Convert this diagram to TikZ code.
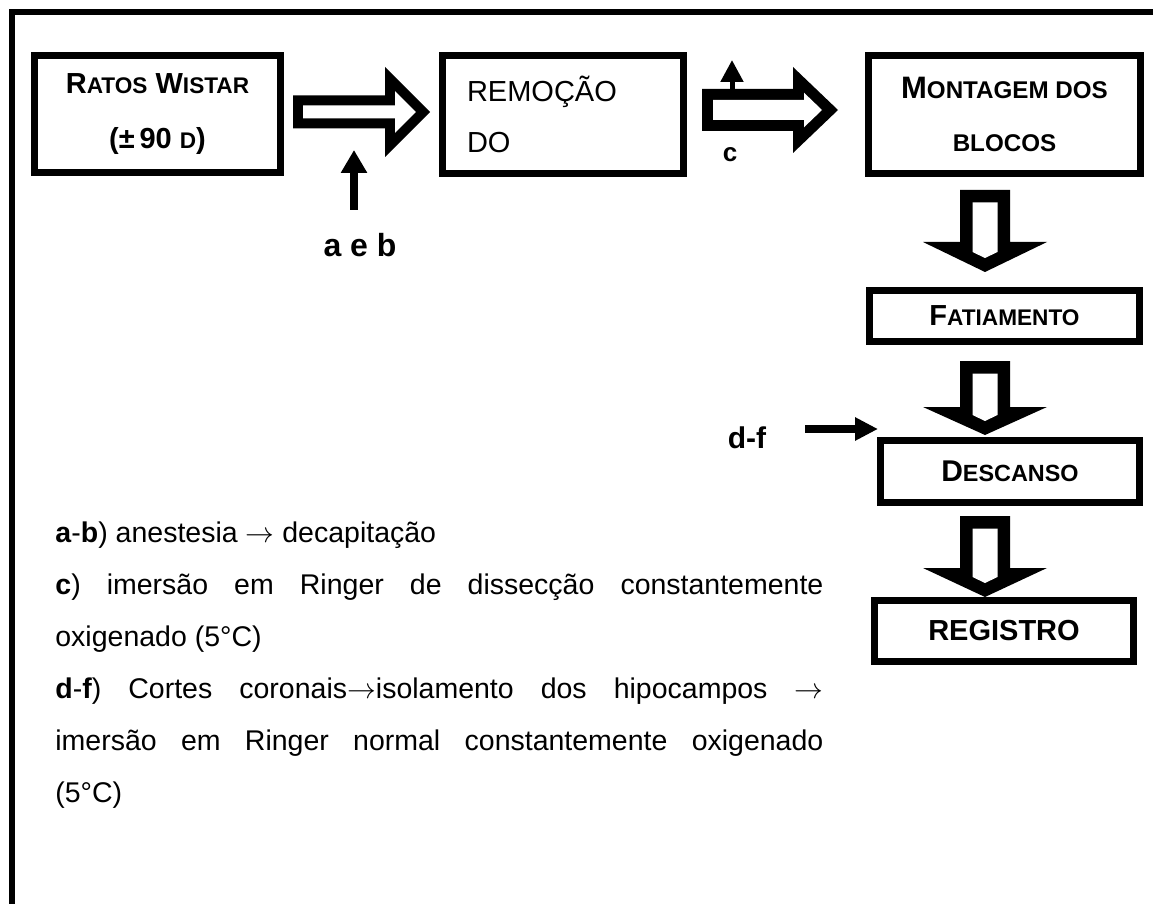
\documentclass[tikz,border=0pt]{standalone}
\usepackage{fontspec}
\setmainfont{Liberation Sans}
\usepackage{graphicx}
\usetikzlibrary{arrows.meta}

\newcommand{\sm}[1]{\scalebox{0.78}{#1}}
% seta larga vazada para baixo: topo, base da cabeca, ponta
\newcommand{\setabaixo}[3]{%
  \fill (960,#1) -- (1010,#1) -- (1010,#2) -- (1047,#2) -- (985,#3) -- (923,#2) -- (960,#2) -- cycle;
  \fill[white] (972.5,#1+12.5) -- (997.5,#1+12.5) -- (997.5,#3-20) -- (985,#3-14) -- (972.5,#3-20) -- cycle;}

\tikzset{
  etapa/.style={draw, line width=3.5pt, inner sep=0pt, align=center},
  rotulo/.style={font=\bfseries\fontsize{16}{19}\selectfont},
  seta/.style={line width=4pt, -{Triangle[length=11.5pt,width=12.5pt]}},
}

\begin{document}
\begin{tikzpicture}[x=0.5pt,y=-0.5pt]
\begin{scope}[scale=1]
\useasboundingbox (0,0) rectangle (1153,904);

\draw[line width=3.2pt] (1153,12) -- (12,12) -- (12,904);

% etapas
\node[etapa, minimum width=123pt, minimum height=58.5pt, font=\bfseries\fontsize{14.5}{27.5}\selectfont] (ratos) at (157.5,114) {R\sm{ATOS} W\sm{ISTAR}\\(±\,90 \sm{D})};
\node[etapa, minimum width=120.5pt, minimum height=59pt, inner xsep=12.25pt, text width=96pt, align=left, font=\fontsize{14.5}{25.5}\selectfont] (remo) at (563,114.5) {REMOÇÃO\\DO};
\node[etapa, minimum width=136pt, minimum height=59pt, font=\bfseries\fontsize{15.5}{26.5}\selectfont] (mont) at (1004.5,114.5) {M\sm{ONTAGEM DOS}\\\sm{BLOCOS}};
\node[etapa, minimum width=135pt, minimum height=25.5pt, font=\bfseries\fontsize{14.5}{17}\selectfont] (fatia) at (1004.5,316) {F\sm{ATIAMENTO}};
\node[etapa, minimum width=129.5pt, minimum height=31pt, font=\bfseries\fontsize{15}{18}\selectfont] (desc) at (1010,471.5) {D\sm{ESCANSO}};
\node[etapa, minimum width=129.5pt, minimum height=30.5pt, font=\bfseries\fontsize{14.5}{17}\selectfont] (reg) at (1004,631) {REGISTRO};

% setas largas
\fill (293,95.5) -- (385,95.5) -- (385,67) -- (430,112) -- (385,157) -- (385,128.5) -- (293,128.5) -- cycle;
\fill[white] (303,105.5) -- (395,105.5) -- (395,91.1) -- (415.9,112) -- (395,132.9) -- (395,118.5) -- (303,118.5) -- cycle;
\fill (702,89) -- (793,89) -- (793,67) -- (838,110) -- (793,153) -- (793,131) -- (702,131) -- cycle;
\fill[white] (713,100) -- (804,100) -- (804,92.7) -- (822,110) -- (804,127.3) -- (804,120) -- (713,120) -- cycle;
\setabaixo{190}{242}{272}
\setabaixo{361}{407}{435}
\setabaixo{516}{568}{597}

% rotulos e setas finas
\node[rotulo] (ab) at (360,245) {a e b};
\coordinate (abini) at (354,210);
\coordinate (abfim) at (354,150);
\draw[seta] (abini) -- (abfim);

\node[rotulo, font=\bfseries\fontsize{13}{15}\selectfont] (c) at (730,155) {c};
\coordinate (cini) at (732,92);
\coordinate (cfim) at (732,60);
\draw[seta, line width=2.5pt, -{Triangle[length=11pt,width=11pt]}] (cini) -- (cfim);

\node[rotulo, font=\bfseries\fontsize{15}{18}\selectfont] (df) at (747,438) {d-f};
\coordinate (dfini) at (805,429);
\coordinate (dffim) at (878,429);
\draw[seta, -{Triangle[length=11.5pt,width=11pt]}] (dfini) -- (dffim);

% legenda
\node[anchor=north west, inner sep=0pt, text width=384pt, align=justify, font=\fontsize{14.25}{26}\selectfont] (legenda) at (55,521) {%
\parindent=0pt\spaceskip=0.278em plus 1.5em minus 0.05em\relax
\hyphenpenalty=10000\exhyphenpenalty=10000
\textbf{a}-\textbf{b}) anestesia $\rightarrow$ decapitação\par
\textbf{c}) imersão em Ringer de dissecção constantemente\linebreak oxigenado (5°C)\par
\textbf{d}-\textbf{f}) Cortes coronais$\rightarrow$isolamento dos hipocampos $\rightarrow$\linebreak imersão em Ringer normal constantemente oxigenado\linebreak (5°C)};

\end{scope}
\end{tikzpicture}
\end{document}
